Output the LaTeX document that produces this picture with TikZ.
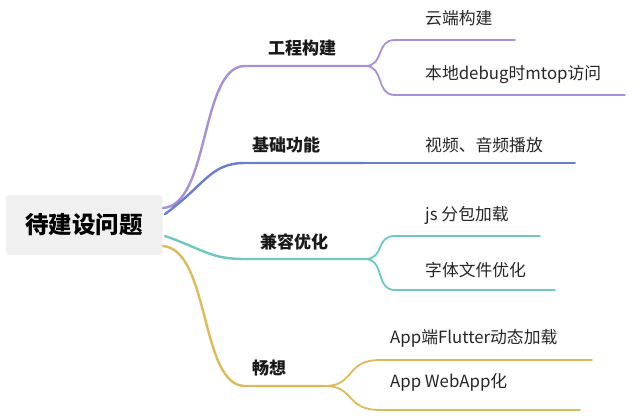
\documentclass[tikz,border=0pt]{standalone}
\usepackage{fontspec}
\newfontfamily\cjk{Noto Sans CJK SC}
\begin{document}
\begin{tikzpicture}[x=1pt,y=-1pt,
 br/.style={line width=2.4pt,line cap=round},
 lab/.style={font=\cjk\fontsize{16.8}{19}\selectfont,text=black!85,inner sep=0pt,anchor=west},
 lab1/.style={font=\cjk\bfseries\fontsize{17}{19}\selectfont,text=black!90,inner sep=0pt,anchor=west}]
\definecolor{cP}{HTML}{A98ED8}
\definecolor{cB}{HTML}{6A7ED0}
\definecolor{cT}{HTML}{6CC8C0}
\definecolor{cG}{HTML}{DDBA5C}
\useasboundingbox (0,0) rectangle (640,416);
\node[fill=black!6,rounded corners=4pt,minimum width=157pt,minimum height=60pt,inner sep=0pt,font=\cjk\bfseries\fontsize{23.5}{26}\selectfont] (root) at (84,225) {待建设问题};
\coordinate (r1) at (163,208);
\coordinate (r2) at (165,214);
\coordinate (r3) at (165,236);
\coordinate (r4) at (163,246);
% level 1
\node[lab1] (a) at (268,48) {工程构建};
\node[lab1] (b) at (252,145) {基础功能};
\node[lab1] (c) at (260,242) {兼容优化};
\node[lab1] (d) at (252,368) {畅想};
\coordinate (a0) at (245,66); \coordinate (a1) at (365,66);
\coordinate (b0) at (245,163); \coordinate (b1) at (365,163);
\coordinate (c0) at (245,259); \coordinate (c1) at (365,259);
\coordinate (d0) at (245,386); \coordinate (d1) at (325,386);
\draw[br,cP] (r1) .. controls (210,205) and (200,66) .. (a0) -- (a1);
\draw[br,cB] (r2) .. controls (205,185) and (210,163) .. (b0) -- (b1);
\draw[br,cT] (r3) .. controls (205,250) and (210,259) .. (c0) -- (c1);
\draw[br,cG] (r4) .. controls (210,250) and (200,386) .. (d0) -- (d1);
% children
\node[lab] (a1t) at (425,18) {云端构建};
\node[lab] (a2t) at (425,75) {本地debug时mtop访问};
\node[lab] (b1t) at (425,145) {视频、音频播放};
\node[lab] (c1t) at (425,215) {js 分包加载};
\node[lab] (c2t) at (425,270) {字体文件优化};
\node[lab] (d1t) at (390,338) {App端Flutter动态加载};
\node[lab] (d2t) at (390,382) {App WebApp化};
\draw[br,cP,line width=1.8pt] (a1) .. controls (385,66) and (375,40) .. (395,40) -- (515,40);
\draw[br,cP,line width=1.8pt] (a1) .. controls (385,66) and (375,95) .. (395,95) -- (625,95);
\draw[br,cB,line width=1.8pt] (b1) -- (575,163);
\draw[br,cT,line width=1.8pt] (c1) .. controls (385,259) and (375,236) .. (395,236) -- (540,236);
\draw[br,cT,line width=1.8pt] (c1) .. controls (385,259) and (375,290) .. (395,290) -- (555,290);
\draw[br,cG,line width=1.8pt] (d1) .. controls (355,386) and (345,360) .. (380,360) -- (592,360);
\draw[br,cG,line width=1.8pt] (d1) .. controls (355,386) and (345,410) .. (380,410) -- (580,410);
\end{tikzpicture}
\end{document}
